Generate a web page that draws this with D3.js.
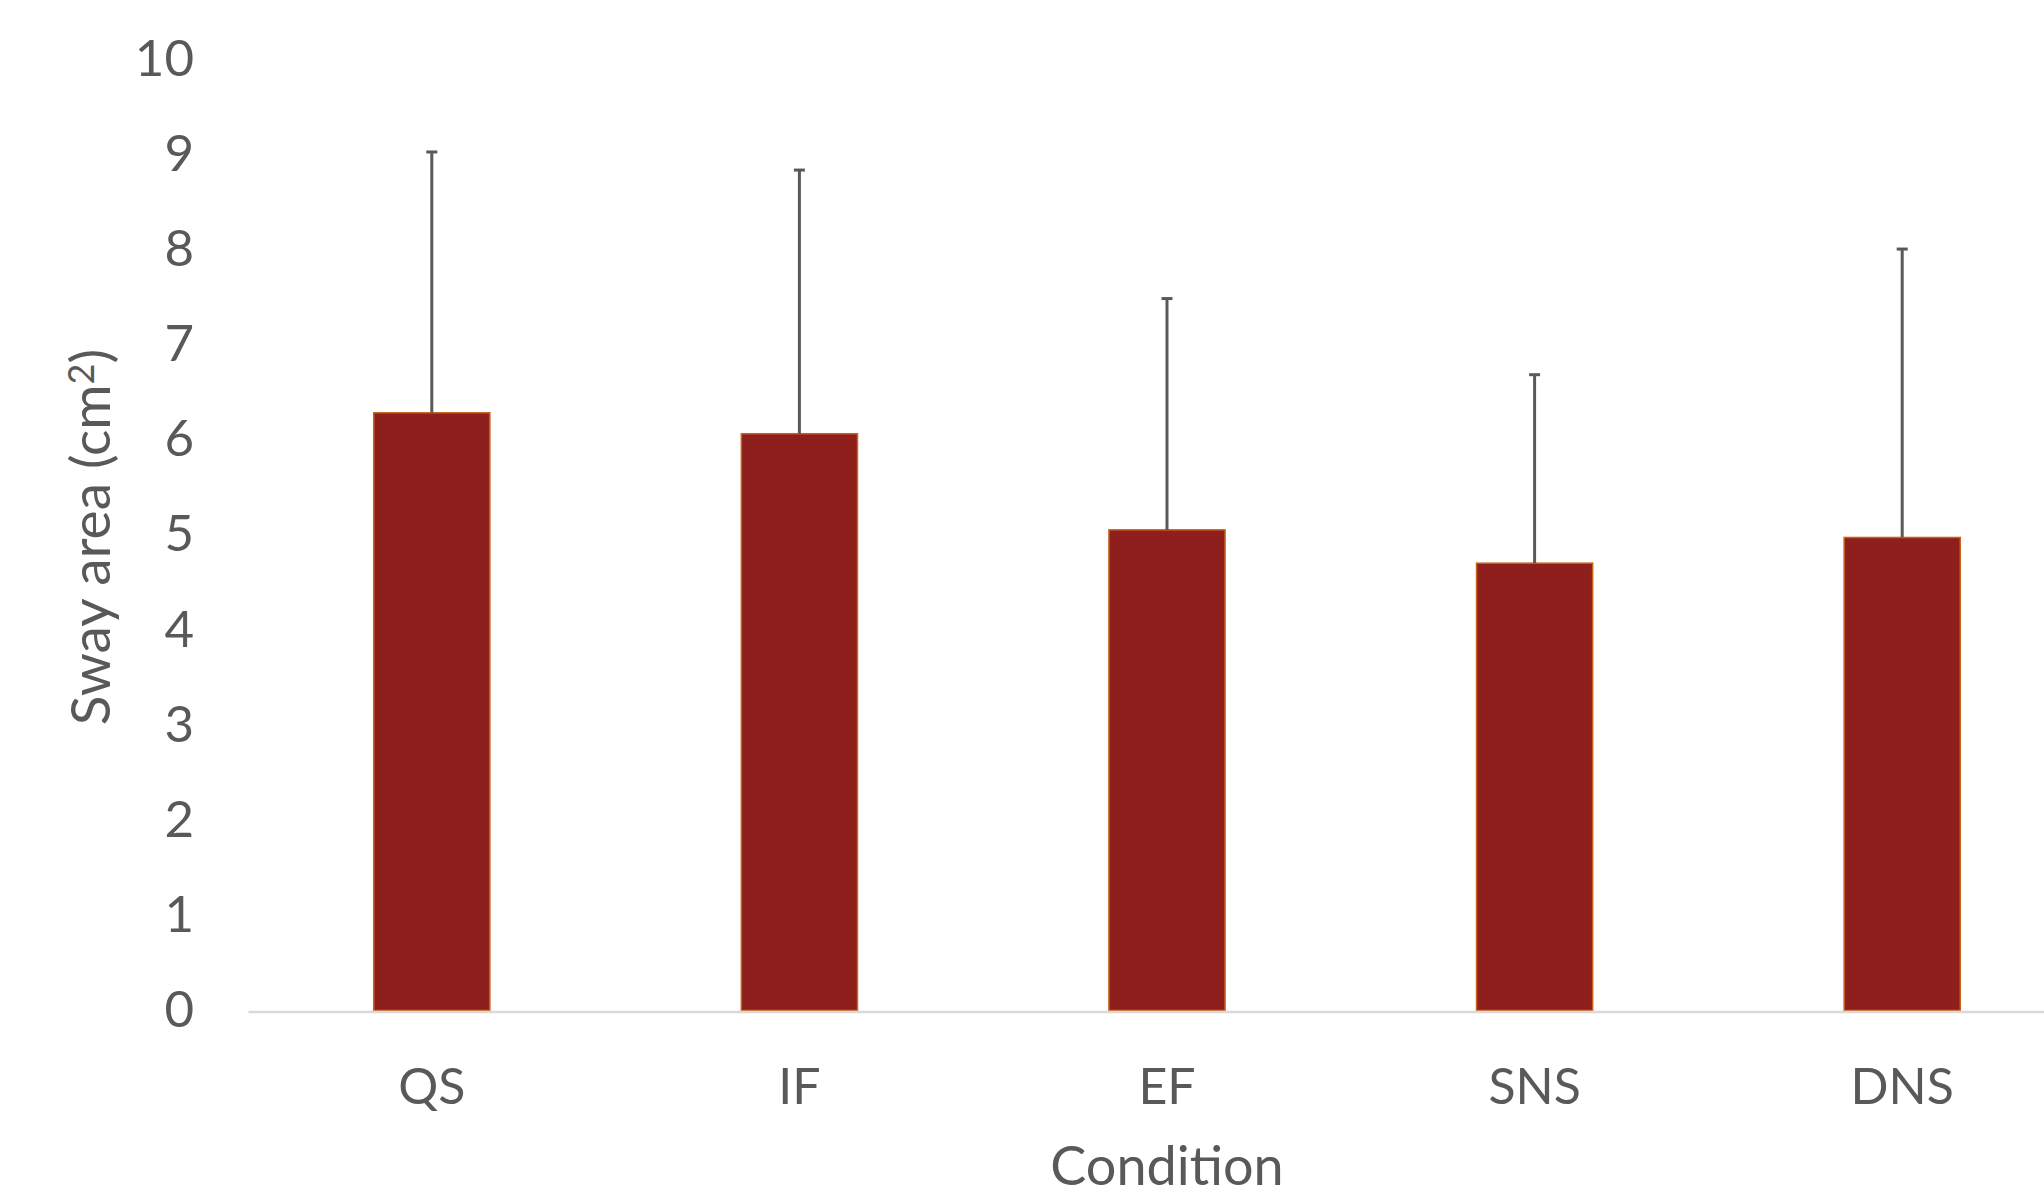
<!DOCTYPE html>
<html>
<head>
<meta charset="utf-8">
<script src="https://cdn.jsdelivr.net/npm/d3@7"></script>
<style>
  body { margin: 0; background: #fff; }
  svg { display: block; }
</style>
</head>
<body>
<svg></svg>
<script>
// data

const categories = ['QS', 'IF', 'EF', 'SNS', 'DNS'];
const means = [6.28, 6.06, 5.05, 4.70, 4.97];
const errorTops = [9.02, 8.83, 7.48, 6.68, 8.00];
const yTicks = [0, 1, 2, 3, 4, 5, 6, 7, 8, 9, 10];

const width = 2044, height = 1197;
const font = "Lato, 'Open Sans', sans-serif";
const textColor = '#595959';

const svg = d3.select('svg')
  .attr('width', width)
  .attr('height', height);

const plot = { left: 248, right: 2086, top: 58.7, bottom: 1010.5 };


// scales

const xScale = d3.scaleBand()
  .domain(categories)
  .range([plot.left, plot.right])
  .paddingInner(0.684)
  .paddingOuter(0.342);

const yScale = d3.scaleLinear()
  .domain([0, 10])
  .range([plot.bottom, plot.top]);


// bars

const rows = categories.map((c, i) => ({ cat: c, mean: means[i], top: errorTops[i] }));

svg.append('g')
  .selectAll('rect')
  .data(rows)
  .enter()
    .append('rect')
    .attr('x', d => xScale(d.cat))
    .attr('y', d => yScale(d.mean))
    .attr('width', xScale.bandwidth())
    .attr('height', d => yScale(0) - yScale(d.mean))
    .style('fill', '#8E1F1C')
    .style('stroke', '#C8641E')
    .style('stroke-width', 1.5);


// error bars (upper only)

const errG = svg.append('g')
  .style('stroke', '#595959')
  .style('stroke-width', 3);

errG.selectAll('line.stem')
  .data(rows)
  .enter()
    .append('line')
    .attr('class', 'stem')
    .attr('x1', d => xScale(d.cat) + xScale.bandwidth() / 2)
    .attr('x2', d => xScale(d.cat) + xScale.bandwidth() / 2)
    .attr('y1', d => yScale(d.mean))
    .attr('y2', d => yScale(d.top));

errG.selectAll('line.cap')
  .data(rows)
  .enter()
    .append('line')
    .attr('class', 'cap')
    .attr('x1', d => xScale(d.cat) + xScale.bandwidth() / 2 - 5.5)
    .attr('x2', d => xScale(d.cat) + xScale.bandwidth() / 2 + 5.5)
    .attr('y1', d => yScale(d.top))
    .attr('y2', d => yScale(d.top));


// x-axis

const xAxis = d3.axisBottom(xScale)
  .tickSize(0)
  .tickPadding(57);

const xAxisG = svg.append('g')
  .attr('transform', `translate(0,${plot.bottom + 1})`)
  .call(xAxis);

xAxisG.select('.domain')
  .style('stroke', '#D9D9D9')
  .style('stroke-width', 2.5);

xAxisG.selectAll('.tick text')
  .style('font-family', font)
  .style('font-size', '50px')
  .style('fill', textColor);


// y-axis

const yAxis = d3.axisLeft(yScale)
  .tickValues(yTicks)
  .tickSize(0)
  .tickPadding(0);

const yAxisG = svg.append('g')
  .attr('transform', 'translate(194,0)')
  .call(yAxis);

yAxisG.select('.domain').remove();

yAxisG.selectAll('.tick text')
  .style('font-family', font)
  .style('font-size', '51px')
  .style('fill', textColor);


// axis titles

svg.append('text')
  .attr('x', 1167)
  .attr('y', 1166)
  .attr('dy', '0.35em')
  .attr('text-anchor', 'middle')
  .style('font-family', font)
  .style('font-size', '54px')
  .style('fill', textColor)
  .text('Condition');

const yTitle = svg.append('text')
  .attr('transform', 'translate(91,537) rotate(-90)')
  .attr('dy', '0.35em')
  .attr('text-anchor', 'middle')
  .style('font-family', font)
  .style('font-size', '55px')
  .style('fill', textColor);

yTitle.append('tspan').text('Sway area (cm');
yTitle.append('tspan').text('2').attr('font-size', '36px').attr('baseline-shift', '45%');
yTitle.append('tspan').text(')');
</script>
</body>
</html>
